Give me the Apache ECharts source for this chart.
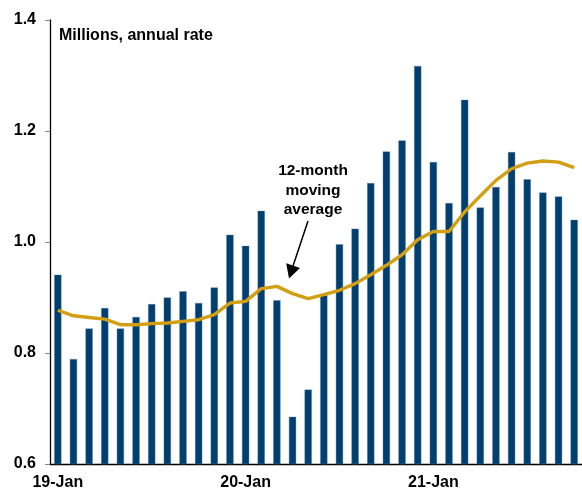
<!DOCTYPE html>
<html>
<head>
<meta charset="utf-8">
<script src="https://cdn.jsdelivr.net/npm/echarts@6/dist/echarts.min.js"></script>
<style>
html,body{margin:0;padding:0;background:#fff;}
#chart{width:582px;height:491px;}
</style>
</head>
<body>
<div id="chart"></div>
<script>
const categories = ["19-Jan","19-Feb","19-Mar","19-Apr","19-May","19-Jun","19-Jul","19-Aug","19-Sep","19-Oct","19-Nov","19-Dec",
  "20-Jan","20-Feb","20-Mar","20-Apr","20-May","20-Jun","20-Jul","20-Aug","20-Sep","20-Oct","20-Nov","20-Dec",
  "21-Jan","21-Feb","21-Mar","21-Apr","21-May","21-Jun","21-Jul","21-Aug","21-Sep","21-Oct"];
const monthly = [0.941,0.789,0.844,0.881,0.844,0.865,0.888,0.900,0.911,0.890,0.918,1.013,
  0.993,1.056,0.895,0.685,0.734,0.904,0.996,1.024,1.106,1.163,1.183,1.317,
  1.144,1.070,1.256,1.062,1.099,1.162,1.113,1.089,1.082,1.040];
const movingAvg = [0.877,0.867,0.864,0.861,0.851,0.851,0.853,0.854,0.857,0.860,0.869,0.890,
  0.893,0.916,0.920,0.907,0.898,0.905,0.913,0.925,0.941,0.958,0.977,1.004,
  1.019,1.019,1.054,1.083,1.111,1.132,1.142,1.146,1.144,1.134];
const yTicks = [0.6, 0.8, 1.0, 1.2, 1.4];

const FONT = '"Liberation Sans", Arial, sans-serif';
const chart = echarts.init(document.getElementById('chart'));
chart.setOption({
  animation: false,
  backgroundColor: '#fff',
  grid: { left: 50, top: 20, width: 536, bottom: 26.7, containLabel: false },
  xAxis: {
    type: 'category',
    data: categories,
    boundaryGap: true,
    axisLine: { lineStyle: { color: '#000', width: 1.3 } },
    axisTick: { interval: 11, length: 4, lineStyle: { color: '#888' } },
    axisLabel: { interval: 11, color: '#000', fontWeight: 'bold', fontSize: 16, fontFamily: FONT, margin: 11,
      formatter: v => v },
    splitLine: { show: false }
  },
  yAxis: {
    type: 'value',
    min: yTicks[0], max: yTicks[yTicks.length-1], interval: 0.2,
    axisLine: { show: true, lineStyle: { color: '#000', width: 1.3 } },
    axisTick: { show: true, length: 5, lineStyle: { color: '#888' } },
    axisLabel: { color: '#000', fontWeight: 'bold', fontSize: 16, fontFamily: FONT, margin: 14,
      formatter: v => v.toFixed(1) },
    splitLine: { show: false }
  },
  series: [
    {
      type: 'bar',
      data: monthly,
      barWidth: '46%',
      itemStyle: { color: '#003F6F', borderColor: '#5d7fa0', borderWidth: 0.4 },
      z: 2
    },
    {
      type: 'line',
      data: movingAvg,
      symbol: 'none',
      lineStyle: { color: '#D49E12', width: 3.4 },
      z: 3
    }
  ],
  graphic: [
    { type: 'text', left: 59, top: 28,
      style: { text: 'Millions, annual rate', font: 'bold 16px ' + FONT, fill: '#000' } },
    { type: 'text', x: 313, y: 161,
      style: { text: '12-month\nmoving\naverage', font: 'bold 15.5px ' + FONT, fill: '#000',
        textAlign: 'center', lineHeight: 19.5 } },
    { type: 'line', shape: { x1: 308, y1: 221, x2: 293, y2: 266 },
      style: { stroke: '#000', lineWidth: 1.5 } },
    { type: 'polygon', shape: { points: [[289, 278.5], [300, 268], [286.2, 263.3]] },
      style: { fill: '#000' } }
  ]
});
</script>
</body>
</html>
